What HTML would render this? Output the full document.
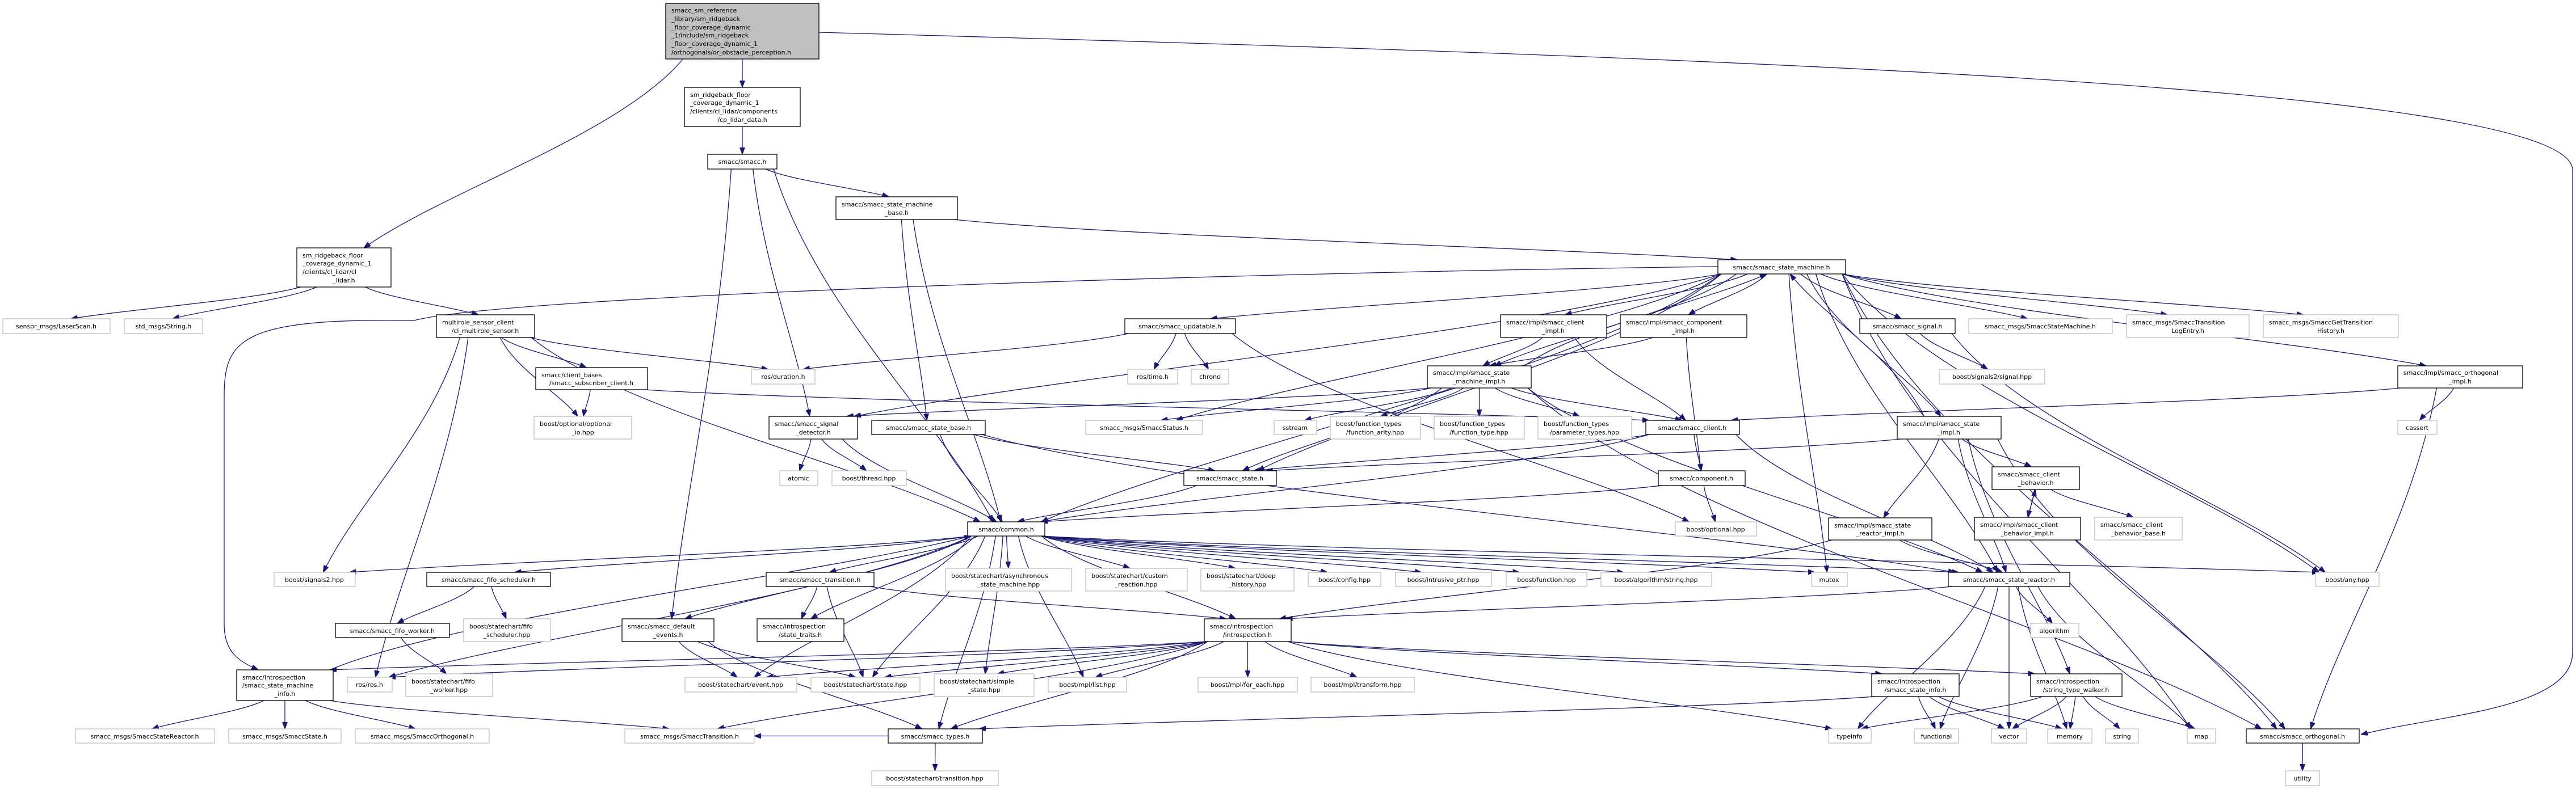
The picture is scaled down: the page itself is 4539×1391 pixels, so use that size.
<!DOCTYPE html>
<html><head><meta charset="utf-8"><style>
html,body{margin:0;padding:0;background:#fff;}
svg{display:block;}
text{font-family:"DejaVu Sans","Liberation Sans",sans-serif;font-size:11px;fill:#000;}
.n rect{fill:#fff;stroke:#000;stroke-width:1.3;}
.g rect{fill:#fff;stroke:#bfbfbf;stroke-width:1.3;}
.r rect{fill:#bfbfbf;stroke:#000;stroke-width:1.3;}
#edges path{fill:none;stroke:#191970;stroke-width:1.3;}
</style></head><body>
<svg id="s" width="4539" height="1391" viewBox="0 0 4539 1391" xmlns="http://www.w3.org/2000/svg">
<defs><marker id="a" markerUnits="userSpaceOnUse" markerWidth="12" markerHeight="9" refX="12" refY="4.5" orient="auto"><path d="M0,0 L12,4.5 L0,9 z" fill="#191970" stroke="#191970"/></marker></defs>
<g id="edges">
<path marker-end="url(#a)" d="M1443,57 C3000,100 4533,150 4533,300 L4533,1150 C4533,1250 4300,1260 4160,1295"/>
<path marker-end="url(#a)" d="M3027,470 C2200,480 900,520 730,565 C420,560 395,600 395,700 L395,1100 C395,1150 420,1165 455,1181"/>
</g>
<g class="r"><rect x="1173" y="6" width="270" height="98"/>
<text x="1183" y="22">smacc_sm_reference</text><text x="1183" y="37">_library/sm_ridgeback</text><text x="1183" y="52">_floor_coverage_dynamic</text><text x="1183" y="66">_1/include/sm_ridgeback</text><text x="1183" y="81">_floor_coverage_dynamic_1</text><text x="1183" y="96">/orthogonals/or_obstacle_perception.h</text></g>
<g class="n"><rect x="1206" y="154" width="204" height="69"/><text x="1216" y="171">sm_ridgeback_floor</text><text x="1216" y="185">_coverage_dynamic_1</text><text x="1216" y="200">/clients/cl_lidar/components</text><text x="1308" y="215" text-anchor="middle">/cp_lidar_data.h</text></g>
<g class="n"><rect x="1247" y="272" width="122" height="26"/><text x="1308" y="289" text-anchor="middle">smacc/smacc.h</text></g>
<g class="n"><rect x="523" y="437" width="166" height="69"/><text x="533" y="454">sm_ridgeback_floor</text><text x="533" y="468">_coverage_dynamic_1</text><text x="533" y="483">/clients/cl_lidar/cl</text><text x="606" y="498" text-anchor="middle">_lidar.h</text></g>
<g class="g"><rect x="5" y="562" width="189" height="26"/><text x="99" y="579" text-anchor="middle">sensor_msgs/LaserScan.h</text></g>
<g class="g"><rect x="219" y="562" width="138" height="26"/><text x="288" y="579" text-anchor="middle">std_msgs/String.h</text></g>
<g class="n"><rect x="769" y="555" width="173" height="40"/><text x="779" y="572">multirole_sensor_client</text><text x="855" y="587" text-anchor="middle">/cl_multirole_sensor.h</text></g>
<g class="n"><rect x="944" y="648" width="197" height="39"/><text x="954" y="665">smacc/client_bases</text><text x="1042" y="679" text-anchor="middle">/smacc_subscriber_client.h</text></g>
<g class="n"><rect x="1473" y="347" width="214" height="40"/><text x="1483" y="364">smacc/smacc_state_machine</text><text x="1580" y="379" text-anchor="middle">_base.h</text></g>
<g class="n"><rect x="3027" y="458" width="225" height="25"/><text x="3139" y="475" text-anchor="middle">smacc/smacc_state_machine.h</text></g>
<g class="n"><rect x="1982" y="562" width="195" height="26"/><text x="2079" y="579" text-anchor="middle">smacc/smacc_updatable.h</text></g>
<g class="g"><rect x="1324" y="651" width="112" height="26"/><text x="1380" y="668" text-anchor="middle">ros/duration.h</text></g>
<g class="g"><rect x="1987" y="651" width="88" height="26"/><text x="2031" y="668" text-anchor="middle">ros/time.h</text></g>
<g class="g"><rect x="2099" y="651" width="66" height="26"/><text x="2132" y="668" text-anchor="middle">chrono</text></g>
<g class="n"><rect x="2644" y="555" width="187" height="40"/><text x="2654" y="572">smacc/impl/smacc_client</text><text x="2737" y="587" text-anchor="middle">_impl.h</text></g>
<g class="n"><rect x="2855" y="555" width="223" height="40"/><text x="2865" y="572">smacc/impl/smacc_component</text><text x="2966" y="587" text-anchor="middle">_impl.h</text></g>
<g class="n"><rect x="2515" y="645" width="183" height="39"/><text x="2525" y="661">smacc/impl/smacc_state</text><text x="2606" y="676" text-anchor="middle">_machine_impl.h</text></g>
<g class="n"><rect x="3277" y="562" width="168" height="26"/><text x="3361" y="579" text-anchor="middle">smacc/smacc_signal.h</text></g>
<g class="g"><rect x="3469" y="562" width="253" height="26"/><text x="3595" y="579" text-anchor="middle">smacc_msgs/SmaccStateMachine.h</text></g>
<g class="g"><rect x="3747" y="555" width="216" height="40"/><text x="3757" y="572">smacc_msgs/SmaccTransition</text><text x="3855" y="587" text-anchor="middle">LogEntry.h</text></g>
<g class="g"><rect x="3988" y="555" width="238" height="40"/><text x="3998" y="572">smacc_msgs/SmaccGetTransition</text><text x="4107" y="587" text-anchor="middle">History.h</text></g>
<g class="g"><rect x="3417" y="651" width="186" height="26"/><text x="3510" y="668" text-anchor="middle">boost/signals2/signal.hpp</text></g>
<g class="n"><rect x="4225" y="645" width="220" height="39"/><text x="4235" y="661">smacc/impl/smacc_orthogonal</text><text x="4335" y="676" text-anchor="middle">_impl.h</text></g>
<g class="g"><rect x="941" y="734" width="172" height="40"/><text x="951" y="751">boost/optional/optional</text><text x="1027" y="766" text-anchor="middle">_io.hpp</text></g>
<g class="n"><rect x="1355" y="734" width="156" height="40"/><text x="1365" y="751">smacc/smacc_signal</text><text x="1433" y="766" text-anchor="middle">_detector.h</text></g>
<g class="n"><rect x="1536" y="741" width="200" height="25"/><text x="1636" y="758" text-anchor="middle">smacc/smacc_state_base.h</text></g>
<g class="g"><rect x="1913" y="741" width="206" height="25"/><text x="2016" y="758" text-anchor="middle">smacc_msgs/SmaccStatus.h</text></g>
<g class="g"><rect x="2245" y="741" width="75" height="25"/><text x="2282" y="758" text-anchor="middle">sstream</text></g>
<g class="g"><rect x="2344" y="734" width="159" height="40"/><text x="2354" y="751">boost/function_types</text><text x="2423" y="766" text-anchor="middle">/function_arity.hpp</text></g>
<g class="g"><rect x="2527" y="734" width="159" height="40"/><text x="2537" y="751">boost/function_types</text><text x="2606" y="766" text-anchor="middle">/function_type.hpp</text></g>
<g class="g"><rect x="2710" y="734" width="165" height="40"/><text x="2720" y="751">boost/function_types</text><text x="2792" y="766" text-anchor="middle">/parameter_types.hpp</text></g>
<g class="n"><rect x="2900" y="741" width="165" height="25"/><text x="2982" y="758" text-anchor="middle">smacc/smacc_client.h</text></g>
<g class="n"><rect x="3343" y="734" width="183" height="40"/><text x="3353" y="751">smacc/impl/smacc_state</text><text x="3434" y="766" text-anchor="middle">_impl.h</text></g>
<g class="g"><rect x="4225" y="741" width="69" height="25"/><text x="4259" y="758" text-anchor="middle">cassert</text></g>
<g class="n"><rect x="2086" y="830" width="163" height="26"/><text x="2167" y="847" text-anchor="middle">smacc/smacc_state.h</text></g>
<g class="g"><rect x="1374" y="830" width="67" height="26"/><text x="1407" y="847" text-anchor="middle">atomic</text></g>
<g class="g"><rect x="1466" y="830" width="131" height="26"/><text x="1531" y="847" text-anchor="middle">boost/thread.hpp</text></g>
<g class="n"><rect x="2922" y="830" width="153" height="26"/><text x="2998" y="847" text-anchor="middle">smacc/component.h</text></g>
<g class="n"><rect x="3510" y="823" width="154" height="40"/><text x="3520" y="840">smacc/smacc_client</text><text x="3587" y="855" text-anchor="middle">_behavior.h</text></g>
<g class="n"><rect x="1705" y="920" width="136" height="25"/><text x="1773" y="937" text-anchor="middle">smacc/common.h</text></g>
<g class="g"><rect x="2952" y="920" width="143" height="25"/><text x="3023" y="937" text-anchor="middle">boost/optional.hpp</text></g>
<g class="n"><rect x="3222" y="913" width="182" height="39"/><text x="3232" y="930">smacc/impl/smacc_state</text><text x="3313" y="944" text-anchor="middle">_reactor_impl.h</text></g>
<g class="n"><rect x="3479" y="912" width="187" height="40"/><text x="3489" y="929">smacc/impl/smacc_client</text><text x="3572" y="944" text-anchor="middle">_behavior_impl.h</text></g>
<g class="g"><rect x="3691" y="912" width="154" height="40"/><text x="3701" y="929">smacc/smacc_client</text><text x="3768" y="944" text-anchor="middle">_behavior_base.h</text></g>
<g class="g"><rect x="483" y="1009" width="143" height="25"/><text x="554" y="1026" text-anchor="middle">boost/signals2.hpp</text></g>
<g class="n"><rect x="752" y="1009" width="218" height="25"/><text x="861" y="1026" text-anchor="middle">smacc/smacc_fifo_scheduler.h</text></g>
<g class="n"><rect x="1350" y="1009" width="190" height="25"/><text x="1445" y="1026" text-anchor="middle">smacc/smacc_transition.h</text></g>
<g class="g"><rect x="1666" y="1002" width="222" height="40"/><text x="1676" y="1019">boost/statechart/asynchronous</text><text x="1777" y="1034" text-anchor="middle">_state_machine.hpp</text></g>
<g class="g"><rect x="1913" y="1002" width="179" height="40"/><text x="1923" y="1019">boost/statechart/custom</text><text x="2002" y="1034" text-anchor="middle">_reaction.hpp</text></g>
<g class="g"><rect x="2116" y="1002" width="164" height="40"/><text x="2126" y="1019">boost/statechart/deep</text><text x="2198" y="1034" text-anchor="middle">_history.hpp</text></g>
<g class="g"><rect x="2305" y="1009" width="128" height="25"/><text x="2369" y="1026" text-anchor="middle">boost/config.hpp</text></g>
<g class="g"><rect x="2459" y="1009" width="169" height="25"/><text x="2543" y="1026" text-anchor="middle">boost/intrusive_ptr.hpp</text></g>
<g class="g"><rect x="2654" y="1009" width="142" height="25"/><text x="2725" y="1026" text-anchor="middle">boost/function.hpp</text></g>
<g class="g"><rect x="2821" y="1009" width="195" height="25"/><text x="2918" y="1026" text-anchor="middle">boost/algorithm/string.hpp</text></g>
<g class="g"><rect x="3192" y="1009" width="63" height="25"/><text x="3223" y="1026" text-anchor="middle">mutex</text></g>
<g class="n"><rect x="3433" y="1009" width="214" height="25"/><text x="3540" y="1026" text-anchor="middle">smacc/smacc_state_reactor.h</text></g>
<g class="g"><rect x="4080" y="1009" width="112" height="25"/><text x="4136" y="1026" text-anchor="middle">boost/any.hpp</text></g>
<g class="n"><rect x="591" y="1099" width="201" height="25"/><text x="691" y="1116" text-anchor="middle">smacc/smacc_fifo_worker.h</text></g>
<g class="g"><rect x="817" y="1091" width="153" height="40"/><text x="827" y="1108">boost/statechart/fifo</text><text x="893" y="1123" text-anchor="middle">_scheduler.hpp</text></g>
<g class="n"><rect x="1096" y="1091" width="162" height="40"/><text x="1106" y="1108">smacc/smacc_default</text><text x="1177" y="1123" text-anchor="middle">_events.h</text></g>
<g class="n"><rect x="1334" y="1091" width="153" height="40"/><text x="1344" y="1108">smacc/introspection</text><text x="1410" y="1123" text-anchor="middle">/state_traits.h</text></g>
<g class="n"><rect x="2122" y="1091" width="153" height="40"/><text x="2132" y="1108">smacc/introspection</text><text x="2198" y="1123" text-anchor="middle">/introspection.h</text></g>
<g class="g"><rect x="3578" y="1099" width="85" height="25"/><text x="3620" y="1116" text-anchor="middle">algorithm</text></g>
<g class="n"><rect x="417" y="1181" width="170" height="54"/><text x="427" y="1198">smacc/introspection</text><text x="427" y="1212">/smacc_state_machine</text><text x="502" y="1227" text-anchor="middle">_info.h</text></g>
<g class="g"><rect x="612" y="1194" width="79" height="26"/><text x="651" y="1211" text-anchor="middle">ros/ros.h</text></g>
<g class="g"><rect x="715" y="1188" width="153" height="40"/><text x="725" y="1205">boost/statechart/fifo</text><text x="791" y="1220" text-anchor="middle">_worker.hpp</text></g>
<g class="g"><rect x="1207" y="1194" width="197" height="26"/><text x="1305" y="1211" text-anchor="middle">boost/statechart/event.hpp</text></g>
<g class="g"><rect x="1429" y="1194" width="192" height="26"/><text x="1525" y="1211" text-anchor="middle">boost/statechart/state.hpp</text></g>
<g class="g"><rect x="1646" y="1188" width="176" height="40"/><text x="1656" y="1205">boost/statechart/simple</text><text x="1734" y="1220" text-anchor="middle">_state.hpp</text></g>
<g class="g"><rect x="1847" y="1194" width="138" height="26"/><text x="1916" y="1211" text-anchor="middle">boost/mpl/list.hpp</text></g>
<g class="g"><rect x="2111" y="1194" width="175" height="26"/><text x="2198" y="1211" text-anchor="middle">boost/mpl/for_each.hpp</text></g>
<g class="g"><rect x="2310" y="1194" width="182" height="26"/><text x="2401" y="1211" text-anchor="middle">boost/mpl/transform.hpp</text></g>
<g class="n"><rect x="3298" y="1188" width="154" height="40"/><text x="3308" y="1205">smacc/introspection</text><text x="3375" y="1220" text-anchor="middle">/smacc_state_info.h</text></g>
<g class="n"><rect x="3578" y="1188" width="161" height="40"/><text x="3588" y="1205">smacc/introspection</text><text x="3658" y="1220" text-anchor="middle">/string_type_walker.h</text></g>
<g class="g"><rect x="133" y="1285" width="245" height="25"/><text x="255" y="1302" text-anchor="middle">smacc_msgs/SmaccStateReactor.h</text></g>
<g class="g"><rect x="403" y="1285" width="198" height="25"/><text x="502" y="1302" text-anchor="middle">smacc_msgs/SmaccState.h</text></g>
<g class="g"><rect x="626" y="1285" width="236" height="25"/><text x="744" y="1302" text-anchor="middle">smacc_msgs/SmaccOrthogonal.h</text></g>
<g class="g"><rect x="1101" y="1285" width="228" height="25"/><text x="1215" y="1302" text-anchor="middle">smacc_msgs/SmaccTransition.h</text></g>
<g class="n"><rect x="1565" y="1285" width="166" height="25"/><text x="1648" y="1302" text-anchor="middle">smacc/smacc_types.h</text></g>
<g class="g"><rect x="3222" y="1285" width="75" height="25"/><text x="3259" y="1302" text-anchor="middle">typeinfo</text></g>
<g class="g"><rect x="3373" y="1285" width="78" height="25"/><text x="3412" y="1302" text-anchor="middle">functional</text></g>
<g class="g"><rect x="3509" y="1285" width="62" height="25"/><text x="3540" y="1302" text-anchor="middle">vector</text></g>
<g class="g"><rect x="3608" y="1285" width="78" height="25"/><text x="3647" y="1302" text-anchor="middle">memory</text></g>
<g class="g"><rect x="3710" y="1285" width="58" height="25"/><text x="3739" y="1302" text-anchor="middle">string</text></g>
<g class="g"><rect x="3854" y="1285" width="50" height="25"/><text x="3879" y="1302" text-anchor="middle">map</text></g>
<g class="n"><rect x="3958" y="1285" width="199" height="25"/><text x="4057" y="1302" text-anchor="middle">smacc/smacc_orthogonal.h</text></g>
<g class="g"><rect x="1536" y="1359" width="223" height="26"/><text x="1647" y="1376" text-anchor="middle">boost/statechart/transition.hpp</text></g>
<g class="g"><rect x="4027" y="1359" width="60" height="26"/><text x="4057" y="1376" text-anchor="middle">utility</text></g>
</svg>
<script>
var B={cpl:[1206,154,1410,223],smacch:[1247,272,1369,298],cll:[523,437,689,506],scan:[5,562,194,588],str:[219,562,357,588],multi:[769,555,942,595],subc:[944,648,1141,687],smb:[1473,347,1687,387],sm:[3027,458,3252,483],upd:[1982,562,2177,588],dur:[1324,651,1436,677],rtime:[1987,651,2075,677],chrono:[2099,651,2165,677],cimpl:[2644,555,2831,595],compimpl:[2855,555,3078,595],smimpl:[2515,645,2698,684],sig:[3277,562,3445,588],ssm:[3469,562,3722,588],tle:[3747,555,3963,595],gth:[3988,555,4226,595],sig2:[3417,651,3603,677],oimpl:[4225,645,4445,684],optio:[941,734,1113,774],sigdet:[1355,734,1511,774],stbase:[1536,741,1736,766],status:[1913,741,2119,766],sstream:[2245,741,2320,766],farity:[2344,734,2503,774],ftype:[2527,734,2686,774],ptypes:[2710,734,2875,774],client:[2900,741,3065,766],simpl:[3343,734,3526,774],cassert:[4225,741,4294,766],state:[2086,830,2249,856],atomic:[1374,830,1441,856],thread:[1466,830,1597,856],comp:[2922,830,3075,856],cb:[3510,823,3664,863],common:[1705,920,1841,945],opt:[2952,920,3095,945],srimpl:[3222,913,3404,952],cbimpl:[3479,912,3666,952],cbbase:[3691,912,3845,952],signals2:[483,1009,626,1034],fifos:[752,1009,970,1034],trans:[1350,1009,1540,1034],async:[1666,1002,1888,1042],custom:[1913,1002,2092,1042],deep:[2116,1002,2280,1042],config:[2305,1009,2433,1034],intr:[2459,1009,2628,1034],func:[2654,1009,2796,1034],algstr:[2821,1009,3016,1034],mutex:[3192,1009,3255,1034],reactor:[3433,1009,3647,1034],any:[4080,1009,4192,1034],fifow:[591,1099,792,1124],fifoshpp:[817,1091,970,1131],defev:[1096,1091,1258,1131],traits:[1334,1091,1487,1131],intro:[2122,1091,2275,1131],algorithm:[3578,1099,3663,1124],sminfo:[417,1181,587,1235],ros:[612,1194,691,1220],fifowhpp:[715,1188,868,1228],event:[1207,1194,1404,1220],stateh:[1429,1194,1621,1220],simple:[1646,1188,1822,1228],list:[1847,1194,1985,1220],foreach:[2111,1194,2286,1220],transform:[2310,1194,2492,1220],sinfo:[3298,1188,3452,1228],stw:[3578,1188,3739,1228],msr:[133,1285,378,1310],mss:[403,1285,601,1310],mso:[626,1285,862,1310],mst:[1101,1285,1329,1310],types:[1565,1285,1731,1310],typeinfo:[3222,1285,3297,1310],functional:[3373,1285,3451,1310],vector:[3509,1285,3571,1310],memory:[3608,1285,3686,1310],string:[3710,1285,3768,1310],map:[3854,1285,3904,1310],orth:[3958,1285,4157,1310],transhpp:[1536,1359,1759,1385],utility:[4027,1359,4087,1385],root:[1173,6,1443,105]};
var E="root cpl,root cll,cpl smacch,cll scan,cll str,cll multi,multi subc,multi optio,multi dur,multi signals2,multi ros,multi common,subc optio,subc client,smacch smb,smacch common,smacch defev,smacch sigdet,smb sm,smb stbase,smb common,sm upd,sm cimpl,sm compimpl,sm sig,sm ssm,sm tle,sm gth,sm oimpl,sm simpl,sm any,sm mutex,sm status,sm common,sm reactor,sm orth,sm map,sm state,sm sigdet,sm smimpl,upd dur,upd rtime,upd chrono,upd opt,cimpl smimpl,cimpl client,compimpl smimpl,compimpl comp,smimpl sstream,smimpl farity,smimpl ftype,smimpl ptypes,smimpl client,smimpl sigdet,smimpl state,smimpl status,smimpl reactor,smimpl orth,smimpl sm,sig sig2,sig any,oimpl client,oimpl cassert,oimpl orth,simpl sm,simpl state,simpl reactor,simpl cb,simpl srimpl,simpl orth,simpl stw,sigdet atomic,sigdet thread,sigdet common,stbase state,stbase common,stbase reactor,state common,client comp,client common,client reactor,client state,comp opt,comp common,common signals2,common fifos,common defev,common trans,common traits,common async,common custom,common deep,common config,common intr,common func,common algstr,common mutex,common any,common intro,common event,common stateh,common simple,common list,common types,common reactor,common ros,sminfo common,trans traits,trans intro,trans stateh,fifos fifow,fifos fifoshpp,fifow fifowhpp,defev event,defev stateh,defev types,intro sminfo,intro ros,intro event,intro stateh,intro simple,intro list,intro foreach,intro transform,intro types,intro sinfo,intro stw,intro typeinfo,intro mst,sminfo msr,sminfo mss,sminfo mso,sminfo mst,sinfo types,sinfo functional,sinfo vector,sinfo memory,stw typeinfo,stw vector,stw memory,stw string,stw map,reactor intro,reactor algorithm,reactor functional,reactor vector,reactor map,reactor memory,reactor typeinfo,cb cbimpl,cb cbbase,cbimpl cb,srimpl reactor,srimpl intro,orth utility,types transhpp,types mst".split(",");
var g=document.getElementById("edges"),ns="http://www.w3.org/2000/svg";
function cl(v,a,b){return Math.max(a,Math.min(b,v));}
function bz(sx,sy,tx,ty){var dx=tx-sx,dy=ty-sy;return "M"+sx+","+sy+" C"+(sx+dx*0.2)+","+(sy+dy*0.4)+" "+(sx+dx*0.75)+","+(sy+dy*0.7)+" "+tx+","+ty;}
E.forEach(function(e){var p=e.split(" "),a=B[p[0]],b=B[p[1]];if(!a||!b)return;
var acx=(a[0]+a[2])/2,bcx=(b[0]+b[2])/2,d;
if(b[1]>=a[3]-2){var sx=cl(acx+(bcx-acx)*0.15,a[0]+6,a[2]-6),tx=cl(bcx+(acx-bcx)*0.05,b[0]+6,b[2]-6);d=bz(sx,a[3],tx,b[1]);}
else if(b[3]<=a[1]+2){var sx=cl(acx+(bcx-acx)*0.15,a[0]+6,a[2]-6),tx=cl(bcx+(acx-bcx)*0.05,b[0]+6,b[2]-6);d=bz(sx,a[1],tx,b[3]);}
else{var sy=(a[1]+a[3])/2,ty=(b[1]+b[3])/2,sx,tx;if(bcx<acx){sx=a[0];tx=b[2];}else{sx=a[2];tx=b[0];}var m=(tx-sx)*0.5;
d="M"+sx+","+sy+" C"+(sx+m)+","+sy+" "+(tx-m)+","+ty+" "+tx+","+ty;}
var q=document.createElementNS(ns,"path");q.setAttribute("d",d);q.setAttribute("marker-end","url(#a)");g.appendChild(q);});
</script>
</body></html>
